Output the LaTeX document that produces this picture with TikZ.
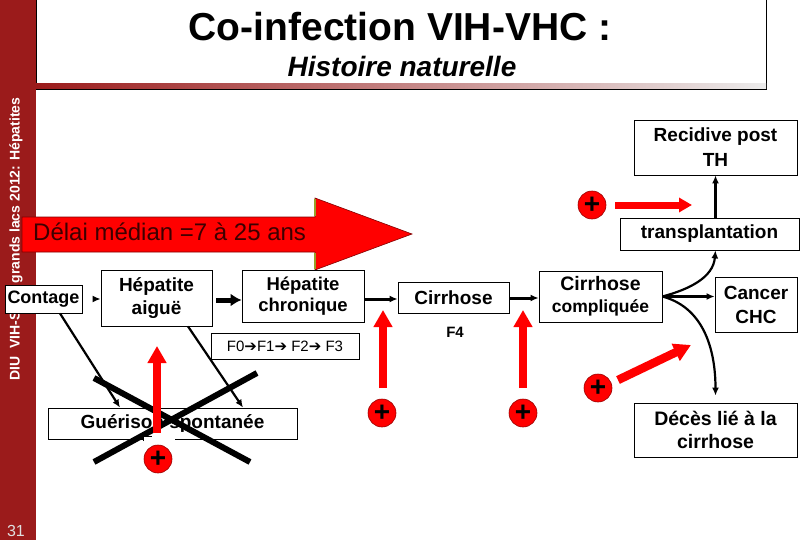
\documentclass[tikz,border=0pt]{standalone}
\usepackage{fontspec}
\setmainfont{Liberation Sans}
\newfontfamily\dejavu{DejaVu Sans}
\usetikzlibrary{arrows.meta}
\definecolor{bordeaux}{RGB}{155,27,27}
\definecolor{brunDelai}{RGB}{60,0,0}
\definecolor{oliveBord}{RGB}{150,160,40}
\newcommand{\taille}[2]{\fontsize{#1}{#2}\selectfont}

\begin{document}
\begin{tikzpicture}[x=1pt,y=-1pt,>={Latex[length=8pt,width=7pt]},
	boite/.style={draw,line width=0.8pt,fill=white,align=center,inner sep=1pt,font=\bfseries\taille{19}{22}},
	lien/.style={->,line width=2.2pt},
	plus/.style={circle,fill=red,draw=red!60!black,line width=0.6pt,minimum size=28pt,inner sep=0pt,font=\bfseries\taille{28}{28}},
	fleche rouge/.style={red,line width=8.5pt,-{Triangle[width=18pt,length=17pt]}}]
	\useasboundingbox (0,0) rectangle (810,540);
	% bandeau
	\fill[bordeaux] (0,0) rectangle (36,540);
	\node[rotate=90,text=white,font=\bfseries\taille{14}{14},inner sep=0pt] (bandeau) at (16,239) {DIU\ \ VIH-SIDA grands lacs 2012: Hépatites};
	\node[text=gray!25,font=\taille{16}{16},inner sep=0pt] (page) at (16,531) {31};
	% titre
	\draw[line width=0.6pt,fill=white] (36,-2) rectangle (766,89);
	\shade[left color=bordeaux,right color=gray!15] (36,84) rectangle (766,89);
	\draw[line width=0.6pt] (36,89) -- (766,89);
	\node[font=\bfseries\taille{39}{39},anchor=base,inner sep=0pt] (titre) at (400,41) {Co-infection VIH-VHC :};
	\node[font=\bfseries\itshape\taille{28}{28},anchor=base,inner sep=0pt] (soustitre) at (402,77) {Histoire naturelle};
	% grande fleche
	\filldraw[fill=red,draw=red!50!black,line width=0.6pt] (22,217) -- (315,217) -- (315,198) -- (412,234) -- (315,270) -- (315,252) -- (22,252) -- cycle;
	\draw[oliveBord,line width=2.5pt] (315,199) -- (315,216) (315,253) -- (315,269);
	\node[text=brunDelai,font=\taille{24}{24},anchor=base west,inner sep=0pt] (delai) at (33,240) {Délai médian =7 à 25 ans};
	% boites
	\node[boite,minimum width=77pt,minimum height=28pt,font=\bfseries\taille{18}{20}] (contage) at (43.5,299) {Contage};
	\node[boite,minimum width=111pt,minimum height=56pt,font=\bfseries\taille{19}{23}] (aigue) at (156.5,298) {Hépatite\\aiguë};
	\node[boite,minimum width=122pt,minimum height=52pt,font=\bfseries\taille{18.5}{21}] (chronique) at (303,296) {Hépatite\\chronique};
	\node[boite,minimum width=148pt,minimum height=26pt,font=\taille{15}{15}] (fibrose) at (285,346) {F0{\dejavu ➔}F1{\dejavu ➔} F2{\dejavu ➔} F3};
	\node[boite,minimum width=111pt,minimum height=31pt] (cirrhose) at (453.5,297.5) {Cirrhose};
	\node[font=\bfseries\taille{15}{15},inner sep=0pt] (stadeF) at (455,332) {F4};
	\node[boite,minimum width=123pt,minimum height=51pt,font=\bfseries\taille{19.5}{22}] (compliquee) at (600.5,296.5) {Cirrhose\\{\taille{17.5}{20}compliquée}};
	\node[boite,minimum width=82pt,minimum height=55pt,font=\bfseries\taille{19}{24}] (cancer) at (756,304.5) {Cancer\\CHC};
	\node[boite,minimum width=163pt,minimum height=54pt,font=\bfseries\taille{19.5}{23}] (deces) at (715.5,430) {Décès lié à la\\cirrhose};
	\node[boite,minimum width=179pt,minimum height=32pt] (transp) at (709.5,234) {transplantation};
	\node[boite,minimum width=163pt,minimum height=55pt,font=\bfseries\taille{19}{25}] (recid) at (715.5,147.5) {Recidive post\\TH};
	\node[boite,minimum width=249pt,minimum height=31pt] (guerison) at (172.5,423.5) {Guérison spontanée};
	% liens
	\draw[lien,shorten <=12pt] (contage.east) -- (aigue.west |- contage.east);
	\draw[->,line width=5pt,>={Latex[length=11pt,width=13pt]},shorten <=4pt] (aigue.east |- 0,300) -- (chronique.west |- 0,300);
	\draw[lien,line width=3pt] (chronique.east |- 0,299) -- (cirrhose.west |- 0,299);
	\draw[lien,line width=3pt] (cirrhose.east |- 0,298) -- (compliquee.west |- 0,298);
	\draw[lien] (compliquee.east) -- (cancer.west |- compliquee.east);
	\draw[lien] (compliquee.east) to[out=15,in=-95] (recid.south |- transp.south);
	\draw[lien,shorten >=7pt] (compliquee.east) to[out=-15,in=90] (deces.north);
	\draw[lien] (recid.south |- transp.north) -- (recid.south);
	\draw[lien] (contage.south -| 60,0) -- (guerison.north -| 120,0);
	\draw[lien] (aigue.south -| 188,0) -- (guerison.north -| 243,0);
	% croix
	\draw[line width=6pt] (94,378) -- (250,462) (257,373) -- (94,462);
	% facteurs aggravants
	\coordinate (flA0) at (157,433); \coordinate (flA1) at (157,346);
	\coordinate (flB0) at (383,388); \coordinate (flB1) at (383,310);
	\coordinate (flC0) at (523,388); \coordinate (flC1) at (523,310);
	\coordinate (flD0) at (618,380); \coordinate (flD1) at (691,345);
	\coordinate (flE0) at (615,205); \coordinate (flE1) at (692,205);
	\draw[fleche rouge] (flA0) -- (flA1);
	\fill[white] (143,436) rectangle (175,442);
	\draw[line width=0.8pt] (143,441) -- (143,436) -- (152,436);
	\draw[fleche rouge] (flB0) -- (flB1);
	\draw[fleche rouge] (flC0) -- (flC1);
	\draw[fleche rouge] (flD0) -- (flD1);
	\draw[fleche rouge,line width=7pt,-{Triangle[width=14pt,length=13pt]}] (flE0) -- (flE1);
	\node[plus] (plusA) at (158,459) {+};
	\node[plus] (plusB) at (382,413) {+};
	\node[plus] (plusC) at (523,413) {+};
	\node[plus] (plusD) at (598,388) {+};
	\node[plus] (plusE) at (592,205) {+};
\end{tikzpicture}
\end{document}
